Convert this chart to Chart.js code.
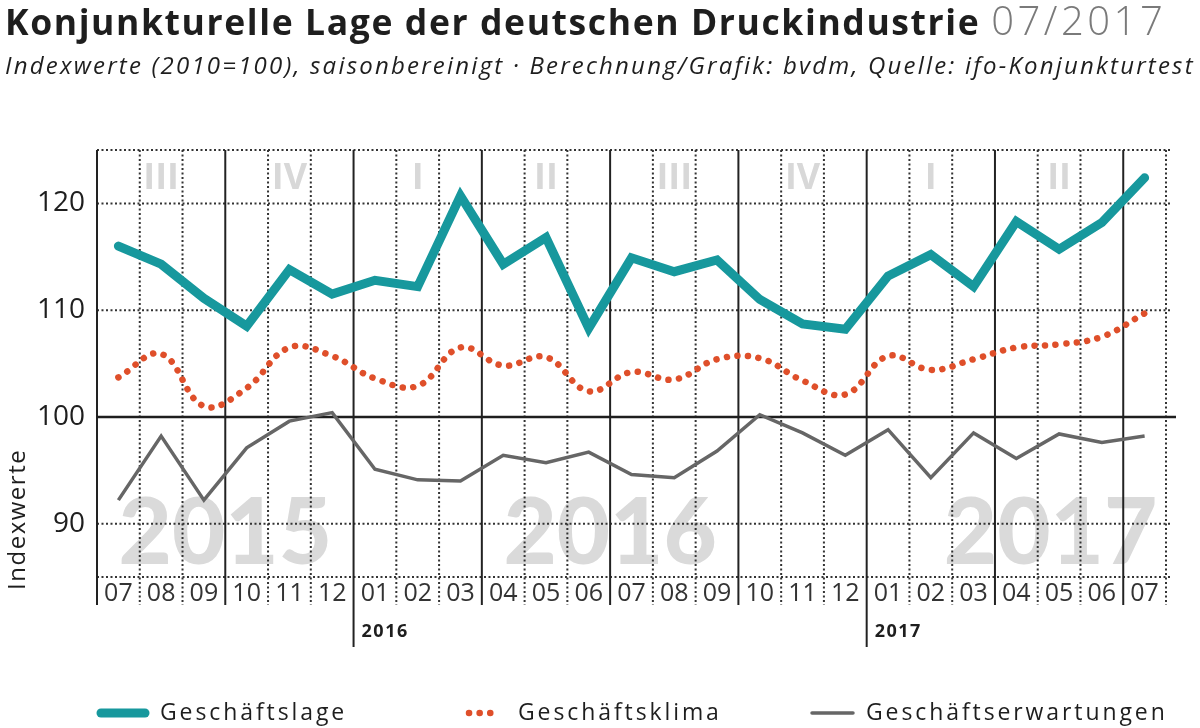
<!DOCTYPE html>
<html lang="de">
<head>
<meta charset="utf-8">
<title>Konjunkturelle Lage der deutschen Druckindustrie</title>
<script src="https://cdn.jsdelivr.net/npm/chart.js@4.4.1/dist/chart.umd.min.js"></script>
<style>
  html, body { margin: 0; padding: 0; background: #fff; }
  #wrap { position: relative; width: 1200px; height: 728px; overflow: hidden; font-family: "Open Sans", sans-serif; }
  #head { position: absolute; left: 5px; top: 0; right: 0; z-index: 2; color: #1e1e1e; }
  #head .t { font-size: 35.5px; line-height: 40px; font-weight: 700; letter-spacing: 1.6px; white-space: nowrap; }
  #head .t span { font-size: 40px; font-weight: 300; color: #7a7a7a; letter-spacing: 3.5px; }
  #head .s { margin-top: 10px; font-size: 24px; line-height: 28px; font-style: italic; letter-spacing: 2.2px; white-space: nowrap; }
  #box { position: absolute; left: 0; top: 0; width: 1200px; height: 728px; }
</style>
</head>
<body>
<div id="wrap">
  <div id="head">
    <div class="t">Konjunkturelle Lage der deutschen Druckindustrie <span>07/2017</span></div>
    <div class="s">Indexwerte (2010=100), saisonbereinigt · Berechnung/Grafik: bvdm, Quelle: ifo-Konjunkturtest</div>
  </div>
  <div id="box"><canvas id="chart"></canvas></div>
</div>
<script>
// Monate 07/2015 bis 07/2017
const months = ['07','08','09','10','11','12','01','02','03','04','05','06','07',
                '08','09','10','11','12','01','02','03','04','05','06','07'];
const years = ['2015', '2016', '2017'];
const yTicks = [90, 100, 110, 120];

const lage = [116.0, 114.3, 111.1, 108.5, 113.8, 111.5, 112.8, 112.2, 120.7, 114.3, 116.8, 108.3, 114.9,
              113.6, 114.7, 111.0, 108.7, 108.2, 113.2, 115.2, 112.2, 118.3, 115.7, 118.2, 122.4];
const klima = [103.7, 105.9, 101.0, 102.7, 106.5, 105.7, 103.6, 102.9, 106.5, 104.8, 105.6, 102.4, 104.2,
               103.5, 105.4, 105.5, 103.4, 102.1, 105.7, 104.4, 105.4, 106.5, 106.8, 107.5, 109.7];
const erwartungen = [92.2, 98.2, 92.2, 97.1, 99.6, 100.4, 95.1, 94.1, 94.0, 96.4, 95.7, 96.7, 94.6,
                     94.3, 96.8, 100.2, 98.5, 96.4, 98.8, 94.3, 98.5, 96.1, 98.4, 97.6, 98.2];

const FONT = '"Open Sans", sans-serif';
const quarterName = { '01': 'I', '04': 'II', '07': 'III', '10': 'IV' };
const yearMarkAt = [2.5, 11.5, 21.8]; // Lage der grossen Jahreszahlen (Kategorie-Index)

// Raster, Quartale, Jahreszahlen
const frame = {
  id: 'frame',
  beforeDatasetsDraw(chart) {
    const { ctx, chartArea: a, scales: { x, y } } = chart;
    const x0 = x.getPixelForValue(0);
    const step = x.getPixelForValue(1) - x0;
    const edge = k => x0 - step / 2 + k * step;
    ctx.save();

    ctx.fillStyle = '#dadada';
    ctx.font = '900 92px Lato, ' + FONT;
    ctx.textAlign = 'center';
    ctx.textBaseline = 'alphabetic';
    years.forEach((yr, i) => ctx.fillText(yr, x0 + yearMarkAt[i] * step, y.getPixelForValue(86.2)));

    ctx.fillStyle = '#d8d8d8';
    ctx.font = 'bold 36px ' + FONT;
    ctx.textBaseline = 'middle';
    months.forEach((m, i) => {
      if (quarterName[m] && i + 2 < months.length) ctx.fillText(quarterName[m], x.getPixelForValue(i + 1), a.top + 29);
    });

    // horizontale Linien
    ctx.lineWidth = 2;
    [85, 90, 110, 120, 125].forEach(v => {
      const py = y.getPixelForValue(v);
      ctx.setLineDash([2, 2.5]);
      ctx.strokeStyle = '#333';
      ctx.beginPath(); ctx.moveTo(a.left, py); ctx.lineTo(a.right + 6, py); ctx.stroke();
    });

    // vertikale Linien, an Jahresanfaengen verlaengert mit Jahreszahl
    let yr = 0;
    for (let k = 0; k <= months.length; k++) {
      const px = edge(k);
      const m = months[k];
      const solid = !!quarterName[m];
      ctx.setLineDash(solid ? [] : [2, 2.5]);
      ctx.strokeStyle = solid ? '#222' : '#333';
      ctx.lineWidth = 2;
      ctx.beginPath();
      ctx.moveTo(px, a.top);
      ctx.lineTo(px, m === '01' ? a.bottom + 70 : a.bottom + 28);
      ctx.stroke();
      if (m === '01') {
        yr++;
        ctx.fillStyle = '#1e1e1e';
        ctx.font = 'bold 18px ' + FONT;
        ctx.letterSpacing = '1.5px';
        ctx.textAlign = 'left';
        ctx.textBaseline = 'middle';
        ctx.fillText(years[yr], px + 8, a.bottom + 55);
        ctx.letterSpacing = '0px';
      }
    }

    const p100 = y.getPixelForValue(100);
    ctx.setLineDash([]);
    ctx.strokeStyle = '#1e1e1e';
    ctx.lineWidth = 2.5;
    ctx.beginPath(); ctx.moveTo(a.left, p100); ctx.lineTo(a.right + 10, p100); ctx.stroke();

    // Achsentitel
    ctx.save();
    ctx.translate(18, y.getPixelForValue(90.4));
    ctx.rotate(-Math.PI / 2);
    ctx.fillStyle = '#1e1e1e';
    ctx.font = '24px ' + FONT;
    ctx.letterSpacing = '1.5px';
    ctx.textAlign = 'center';
    ctx.textBaseline = 'middle';
    ctx.fillText('Indexwerte', 0, 0);
    ctx.restore();

    ctx.restore();
  },
  afterDraw(chart) {
    // Legende
    const { ctx } = chart;
    const ly = 713;
    const ds = chart.data.datasets;
    const items = [[101, 145, 160], [469, 500, 518], [812, 853, 866]];
    ctx.save();
    ctx.font = '23px ' + FONT;
    ctx.letterSpacing = '2.9px';
    ctx.textBaseline = 'middle';
    ctx.textAlign = 'left';
    items.forEach(([s, e, t], i) => {
      const d = ds[i];
      ctx.strokeStyle = d.borderColor;
      ctx.lineWidth = d.borderWidth;
      ctx.lineCap = 'round';
      ctx.setLineDash(d.borderDash || []);
      ctx.beginPath(); ctx.moveTo(s, ly); ctx.lineTo(e, ly); ctx.stroke();
      ctx.fillStyle = '#1e1e1e';
      ctx.fillText(d.label, t, ly);
    });
    ctx.restore();
  }
};

new Chart(document.getElementById('chart'), {
  type: 'line',
  data: {
    labels: months,
    datasets: [
      { label: 'Geschäftslage', data: lage, borderColor: '#17989d', borderWidth: 9,
        borderJoinStyle: 'miter', borderCapStyle: 'round', pointRadius: 0, tension: 0 },
      { label: 'Geschäftsklima', data: klima, borderColor: '#df4f2a', borderWidth: 6.5,
        borderDash: [0.1, 10.5], borderCapStyle: 'round', pointRadius: 0, tension: 0.4 },
      { label: 'Geschäftserwartungen', data: erwartungen, borderColor: '#666666', borderWidth: 3.5,
        borderJoinStyle: 'miter', pointRadius: 0, tension: 0 }
    ]
  },
  options: {
    responsive: true,
    maintainAspectRatio: false,
    animation: false,
    layout: { padding: { top: 150, right: 34, bottom: 91, left: 0 } },
    plugins: { legend: { display: false }, title: { display: false }, tooltip: { enabled: false } },
    scales: {
      x: {
        type: 'category',
        offset: true,
        grid: { display: false, drawTicks: false },
        border: { display: false },
        ticks: { color: '#333', font: { family: FONT, size: 25 }, padding: 2, maxRotation: 0, autoSkip: false },
        afterFit: s => { s.height = 60; }
      },
      y: {
        min: 85, max: 125,
        grid: { display: false, drawTicks: false },
        border: { display: false },
        ticks: {
          stepSize: 5, color: '#1e1e1e', padding: 12,
          font: { family: FONT, size: 28 },
          callback: v => (yTicks.includes(v) ? v : '')
        },
        afterFit: s => { s.width = 97; }
      }
    }
  },
  plugins: [frame]
});
</script>
</body>
</html>
